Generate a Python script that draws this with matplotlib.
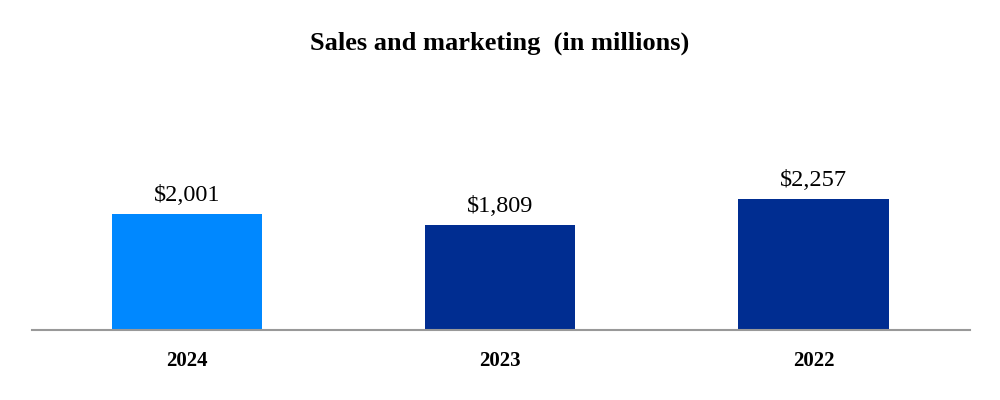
import matplotlib.pyplot as plt

years = ['2024', '2023', '2022']
values = [2001, 1809, 2257]
colors = ['#0088FF', '#002D91', '#002D91']

plt.rcParams['font.family'] = ['Liberation Serif', 'DejaVu Serif']

fig = plt.figure(figsize=(10, 4), dpi=100)
ax = fig.add_axes([0.032, 0.175, 0.938, 0.625])

x = range(len(years))
bars = ax.bar(x, values, width=0.48, color=colors)

for b, v in zip(bars, values):
    ax.text(b.get_x() + b.get_width() / 2, v + 140, '${:,}'.format(v),
            ha='center', va='bottom', fontsize=17.5)

ax.set_xlim(-0.495, 2.5)
ax.set_ylim(0, 4300)
ax.set_xticks(list(x))
ax.set_xticklabels(years, fontsize=15, fontweight='bold')
ax.tick_params(axis='x', length=0, pad=15)
ax.set_yticks([])
for s in ['top', 'right', 'left']:
    ax.spines[s].set_visible(False)
ax.spines['bottom'].set_color('#999999')
ax.spines['bottom'].set_linewidth(1.5)

fig.text(0.5, 0.893, 'Sales and marketing  (in millions)', ha='center', va='center',
         fontsize=19, fontweight='bold')

fig.savefig('out.png', dpi=100)
